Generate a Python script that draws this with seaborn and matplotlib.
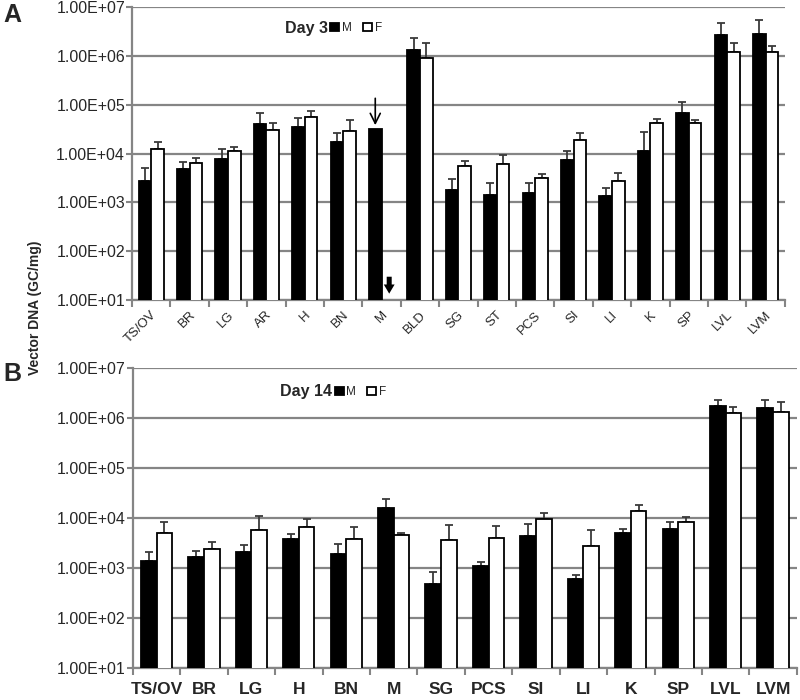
#!/usr/bin/env python3
"""
Vector DNA (GC/mg) per tissue, male vs female, day 3 and day 14, log scale bars.
"""

import matplotlib
matplotlib.use("Agg")

import matplotlib.pyplot as plt
import matplotlib.transforms as mtransforms
import numpy as np
import pandas as pd
import seaborn as sns
from matplotlib.ticker import FuncFormatter, NullLocator

# Tissues shown in each panel.
DAY3_TISSUES = ["TS/OV", "BR", "LG", "AR", "H", "BN", "M", "BLD", "SG", "ST",
                "PCS", "SI", "LI", "K", "SP", "LVL", "LVM"]
DAY14_TISSUES = ["TS/OV", "BR", "LG", "H", "BN", "M", "SG", "PCS", "SI", "LI",
                 "K", "SP", "LVL", "LVM"]

# Day 3 means and upper error. F muscle is below detection.
DAY3_M = [2.7e3, 4.75e3, 7.9e3, 4.1e4, 3.5e4, 1.7e4, 3.15e4, 1.29e6, 1.76e3, 1.41e3,
          1.58e3, 7.3e3, 1.33e3, 1.13e4, 6.85e4, 2.7e6, 2.83e6]
DAY3_M_ERR = [2.4e3, 1.85e3, 4.4e3, 2.5e4, 1.9e4, 9.0e3, 0, 1.0e6, 1.24e3, 1.09e3,
              9.2e2, 3.7e3, 6.1e2, 1.61e4, 4.45e4, 2.1e6, 2.57e6]
DAY3_F = [1.26e4, 6.5e3, 1.12e4, 3.1e4, 5.7e4, 2.9e4, np.nan, 9.2e5, 5.5e3, 6.0e3,
          3.2e3, 1.85e4, 2.74e3, 4.3e4, 4.3e4, 1.19e6, 1.19e6]
DAY3_F_ERR = [4.4e3, 1.6e3, 2.5e3, 1.15e4, 1.8e4, 1.85e4, 0, 8.8e5, 1.4e3, 3.4e3,
              5.6e2, 7.2e3, 1.26e3, 8.0e3, 4.5e3, 6.1e5, 3.9e5]

# Day 14 means and upper error.
DAY14_M = [1.36e3, 1.69e3, 2.12e3, 3.8e3, 1.9e3, 1.58e4, 4.8e2, 1.08e3, 4.3e3, 5.9e2,
           5.0e3, 5.9e3, 1.77e6, 1.58e6]
DAY14_M_ERR = [7.0e2, 4.6e2, 7.6e2, 9.0e2, 1.1e3, 8.6e3, 3.6e2, 2.2e2, 3.3e3, 1.2e2,
               1.1e3, 2.5e3, 5.2e5, 7.1e5]
DAY14_F = [5.0e3, 2.44e3, 5.8e3, 6.6e3, 3.8e3, 4.5e3, 3.63e3, 4.0e3, 9.5e3, 2.7e3,
           1.4e4, 8.4e3, 1.26e6, 1.34e6]
DAY14_F_ERR = [3.3e3, 9.2e2, 5.3e3, 2.8e3, 2.7e3, 4.0e2, 3.57e3, 2.8e3, 2.9e3, 3.05e3,
               4.2e3, 2.2e3, 3.7e5, 7.2e5]

SEXES = ["M", "F"]
GRID_GREY = "#858585"


def long_table(tissues, m_vals, f_vals):
    """Stack M and F values into one long DataFrame for seaborn's hue."""
    return pd.DataFrame({
        "tissue": tissues * 2,
        "sex": ["M"] * len(tissues) + ["F"] * len(tissues),
        "value": list(m_vals) + list(f_vals),
    })


def draw_panel(ax, tissues, m_vals, m_err, f_vals, f_err, day_label,
               bold_ticks, legend_x, legend_y):
    df = long_table(tissues, m_vals, f_vals)
    sns.barplot(data=df, x="tissue", y="value", hue="sex", hue_order=SEXES,
                palette={"M": "black", "F": "white"}, edgecolor="black",
                linewidth=1.3, width=0.66, gap=0, errorbar=None,
                log_scale=True, ax=ax, zorder=3)

    # Upward-only error bars on top of each bar; NaN bars are dropped by seaborn,
    # so find the category from the bar centre instead of the container order.
    for bars, errs in zip(ax.containers[:2], [m_err, f_err]):
        for bar in bars:
            h = bar.get_height()
            xc = bar.get_x() + bar.get_width() / 2
            e = errs[int(round(xc))]
            if not np.isfinite(h) or e <= 0:
                continue
            ax.errorbar(xc, h, yerr=[[0], [e]], fmt="none", ecolor="#3a3a3a",
                        elinewidth=1.3, capsize=3.2, capthick=1.3, zorder=2)

    n = len(tissues)
    ax.set_yscale("log")
    ax.set_ylim(10, 1e7)
    ax.set_xlim(-0.5, n - 0.5)
    ax.yaxis.set_major_formatter(FuncFormatter(lambda v, _: f"{v:.2E}"))
    ax.yaxis.set_minor_locator(NullLocator())
    ax.set_yticks([10 ** k for k in range(1, 8)])

    # Tick marks between categories; category names at the centres.
    ax.set_xticks(np.arange(n + 1) - 0.5)
    ax.set_xticklabels([])
    ax.tick_params(axis="x", which="major", bottom=True, length=5, width=1.5,
                   color=GRID_GREY)
    ax.tick_params(axis="y", which="major", left=True, length=4, width=1.5,
                   color=GRID_GREY, labelsize=11.5, pad=1)
    xtrans = mtransforms.blended_transform_factory(ax.transData, ax.transAxes)
    for i, name in enumerate(tissues):
        if bold_ticks:
            ax.text(i, -0.045, name, transform=xtrans, ha="center", va="top",
                    fontsize=12.5, fontweight="bold")
        else:
            ax.text(i + 0.1, -0.045, name, transform=xtrans, ha="right",
                    va="center", rotation=45, rotation_mode="anchor",
                    fontsize=9.5)

    ax.grid(axis="y", color=GRID_GREY, linewidth=1.6, zorder=0)
    ax.set_axisbelow(True)
    for side in ("top", "right"):
        ax.spines[side].set_visible(False)
    for side in ("left", "bottom"):
        ax.spines[side].set_color(GRID_GREY)
        ax.spines[side].set_linewidth(1.6)
    ax.set_xlabel("")
    ax.set_ylabel("")

    # "Day N" title with a small M/F key next to it.
    handles, labels = ax.get_legend_handles_labels()
    ax.legend(handles[:2], labels[:2], loc="center left",
              bbox_to_anchor=(legend_x + 0.004, legend_y), ncol=2, frameon=False,
              fontsize=8.5, handlelength=0.75, handleheight=0.75,
              handletextpad=0.25, columnspacing=0.9, borderaxespad=0,
              borderpad=0)
    ax.text(legend_x, legend_y, day_label, transform=ax.transAxes,
            ha="right", va="center", fontsize=11.5, fontweight="bold")


sns.set_theme(style="white")
plt.rcParams["font.family"] = ["Liberation Sans", "DejaVu Sans"]

fig = plt.figure(figsize=(8, 7), dpi=100)
ax_a = fig.add_axes([0.165, 0.5714, 0.816, 0.4186])
ax_b = fig.add_axes([0.166, 0.0457, 0.830, 0.4286])

draw_panel(ax_a, DAY3_TISSUES, DAY3_M, DAY3_M_ERR, DAY3_F, DAY3_F_ERR,
           "Day 3", False, 0.300, 0.928)
draw_panel(ax_b, DAY14_TISSUES, DAY14_M, DAY14_M_ERR, DAY14_F, DAY14_F_ERR,
           "Day 14", True, 0.300, 0.92)

# Arrows marking muscle on day 3: thin one over the M bar, thick one where F is missing.
m_bar = ax_a.containers[0][DAY3_TISSUES.index("M")]
m_x = m_bar.get_x() + m_bar.get_width() / 2
f_x = m_x + m_bar.get_width() * 1.1
ax_a.annotate("", xy=(m_x, 3.8e4), xytext=(m_x, 1.35e5),
              arrowprops=dict(arrowstyle="->,head_length=0.6,head_width=0.3",
                              color="black", lw=1.2, shrinkA=0, shrinkB=0), zorder=5)
ax_a.annotate("", xy=(f_x, 13.5), xytext=(f_x, 30),
              arrowprops=dict(arrowstyle="simple,head_length=0.55,head_width=0.65,tail_width=0.3",
                              color="black", lw=0, shrinkA=0, shrinkB=0), zorder=5)

fig.text(0.044, 0.561, "Vector DNA (GC/mg)", rotation=90, ha="center", va="center",
         fontsize=10, fontweight="bold")
fig.text(0.004, 0.979, "A", ha="left", va="center", fontsize=18, fontweight="bold")
fig.text(0.004, 0.466, "B", ha="left", va="center", fontsize=18, fontweight="bold")

fig.savefig("out.png", dpi=100)
